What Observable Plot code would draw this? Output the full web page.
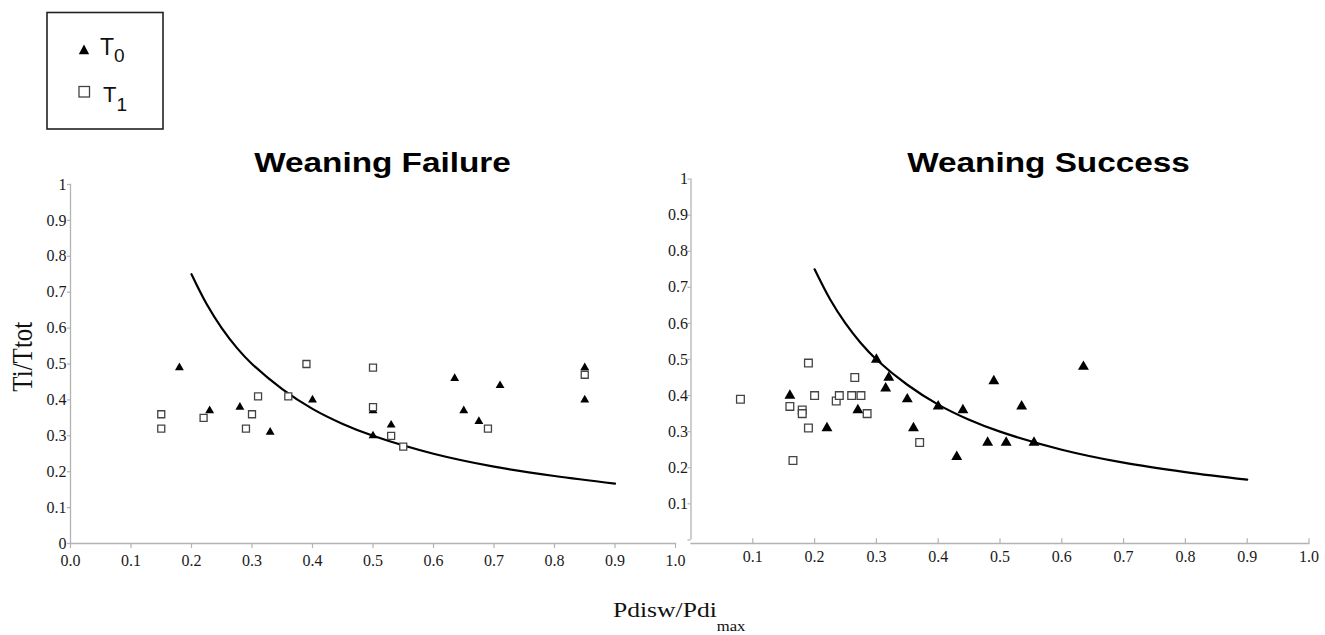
<!DOCTYPE html>
<html>
<head>
<meta charset="utf-8">
<script src="https://cdn.jsdelivr.net/npm/d3@7"></script>
<script src="https://cdn.jsdelivr.net/npm/@observablehq/plot@0.6"></script>
<style>
  html, body { margin: 0; padding: 0; background: #fff; }
  #wrap { position: relative; width: 1325px; height: 635px; background: #fff; overflow: hidden; }
  #left { position: absolute; left: 0; top: 170px; }
  #right { position: absolute; left: 620px; top: 170px; }
  #overlay { position: absolute; left: 0; top: 0; pointer-events: none; }
</style>
</head>
<body>
<div id="wrap">
  <div id="left"></div>
  <div id="right"></div>
  <svg id="overlay" width="1325" height="635">
    <!-- legend -->
    <rect x="47" y="12.5" width="116" height="116.5" fill="none" stroke="#222" stroke-width="1.6"></rect>
    <path d="M84,44.5 L89.2,54.3 L78.8,54.3 Z" fill="#000"></path>
    <rect x="79" y="86.5" width="10.5" height="10.5" fill="#fff" stroke="#444" stroke-width="1.3"></rect>
    <text x="100" y="55" font-family="'Liberation Sans', Arial, sans-serif" font-size="23" fill="#111">T<tspan font-size="19" dy="6.7">0</tspan></text>
    <text x="103" y="101.7" font-family="'Liberation Sans', Arial, sans-serif" font-size="22" fill="#111">T<tspan font-size="19" dy="9">1</tspan></text>
    <!-- titles -->
    <text transform="translate(382.5,172) scale(1.19,1)" text-anchor="middle" font-family="'Liberation Sans', Arial, sans-serif" font-weight="bold" font-size="28" fill="#000">Weaning Failure</text>
    <text transform="translate(1048.5,172) scale(1.19,1)" text-anchor="middle" font-family="'Liberation Sans', Arial, sans-serif" font-weight="bold" font-size="28" fill="#000">Weaning Success</text>
    <!-- axis labels -->
    <text transform="translate(32,356.7) scale(1.19,1) rotate(-90)" text-anchor="middle" font-family="'Liberation Serif', 'Times New Roman', serif" font-size="25" fill="#111">Ti/Ttot</text>
    <text transform="translate(613,617) scale(1.19,1)" font-family="'Liberation Serif', 'Times New Roman', serif" font-size="21.5" fill="#111">Pdisw/Pdi<tspan font-size="14" dy="14">max</tspan></text>
  </svg>
</div>
<script>
// ---- Data ----
const xTicksLeft  = [0, 0.1, 0.2, 0.3, 0.4, 0.5, 0.6, 0.7, 0.8, 0.9, 1.0];
const yTicksLeft  = [0, 0.1, 0.2, 0.3, 0.4, 0.5, 0.6, 0.7, 0.8, 0.9, 1];
const xTicksRight = [0.1, 0.2, 0.3, 0.4, 0.5, 0.6, 0.7, 0.8, 0.9, 1.0];
const yTicksRight = [0, 0.1, 0.2, 0.3, 0.4, 0.5, 0.6, 0.7, 0.8, 0.9, 1];

// Weaning Failure
const failT0x = [0.18, 0.23, 0.28, 0.33, 0.40, 0.50, 0.50, 0.53, 0.635, 0.65, 0.675, 0.71, 0.85, 0.85];
const failT0y = [0.49, 0.37, 0.38, 0.31, 0.40, 0.37, 0.30, 0.33, 0.46, 0.37, 0.34, 0.44, 0.49, 0.40];
const failT1x = [0.15, 0.15, 0.22, 0.29, 0.30, 0.31, 0.36, 0.39, 0.50, 0.50, 0.53, 0.55, 0.69, 0.85];
const failT1y = [0.36, 0.32, 0.35, 0.32, 0.36, 0.41, 0.41, 0.50, 0.49, 0.38, 0.30, 0.27, 0.32, 0.47];

// Weaning Success
const succT0x = [0.16, 0.22, 0.27, 0.30, 0.315, 0.32, 0.35, 0.36, 0.40, 0.43, 0.44, 0.48, 0.49, 0.51, 0.535, 0.555, 0.635];
const succT0y = [0.40, 0.31, 0.36, 0.50, 0.42, 0.45, 0.39, 0.31, 0.37, 0.23, 0.36, 0.27, 0.44, 0.27, 0.37, 0.27, 0.48];
const succT1x = [0.08, 0.16, 0.165, 0.18, 0.18, 0.19, 0.19, 0.20, 0.235, 0.24, 0.26, 0.265, 0.275, 0.285, 0.37];
const succT1y = [0.39, 0.37, 0.22, 0.36, 0.35, 0.49, 0.31, 0.40, 0.385, 0.40, 0.40, 0.45, 0.40, 0.35, 0.27];

// Threshold curve
const curveX = [0.20, 0.225, 0.25, 0.275, 0.30, 0.35, 0.40, 0.45, 0.50, 0.60, 0.70, 0.80, 0.90];
const curveY = [0.75, 0.667, 0.60, 0.545, 0.50, 0.43, 0.375, 0.333, 0.30, 0.25, 0.214, 0.188, 0.167];

// ---- Styles ----
const axisGray = "#b3b3b3";
const textCol = "#1a1a1a";
const serif = "Liberation Serif";

function pts(xs, ys) { return xs.map((x, i) => ({x, y: ys[i]})); }
const lbl = {fontFamily: serif, fontSize: 16, fill: textCol};
const tickStyle = {stroke: axisGray, strokeWidth: 1.2};

// ---- Left panel: Weaning Failure ----
const left = Plot.plot({
  width: 700, height: 400,
  marginLeft: 70, marginRight: 25, marginTop: 14, marginBottom: 27,
  x: {domain: [0, 1], axis: null},
  y: {domain: [0, 1], axis: null},
  style: {background: "transparent", overflow: "visible"},
  marks: [
    Plot.frame({anchor: "bottom", stroke: axisGray, strokeWidth: 1.3}),
    Plot.frame({anchor: "left", stroke: axisGray, strokeWidth: 1.3}),
    // small tick marks (below x axis, left of y axis)
    Plot.ruleX(xTicksLeft, {x: d => d, y1: 0, y2: -0.014, ...tickStyle}),
    Plot.ruleY(yTicksLeft, {y: d => d, x1: 0, x2: -0.005, ...tickStyle}),
    Plot.text(xTicksLeft, {x: d => d, frameAnchor: "bottom", text: d => d.toFixed(1), dy: 22, ...lbl}),
    Plot.text(yTicksLeft, {x: 0, y: d => d, text: d => String(d), textAnchor: "end", dx: -4, ...lbl}),
    Plot.line(pts(curveX, curveY), {x: "x", y: "y", curve: "catmull-rom", stroke: "#000", strokeWidth: 2.2}),
    Plot.dot(pts(failT0x, failT0y), {x: "x", y: "y", symbol: "triangle", r: 3.3, fill: "#000"}),
    Plot.dot(pts(failT1x, failT1y), {x: "x", y: "y", symbol: "square", r: 3.95, fill: "#fff", stroke: "#444", strokeWidth: 1.3})
  ]
});
document.getElementById("left").appendChild(left);

// ---- Right panel: Weaning Success ----
const right = Plot.plot({
  width: 705, height: 400,
  marginLeft: 70.5, marginRight: 16.5, marginTop: 8.6, marginBottom: 27,
  x: {domain: [0, 1], axis: null},
  y: {domain: [0, 1], insetBottom: 3.6, axis: null},
  style: {background: "transparent", overflow: "visible"},
  marks: [
    Plot.frame({anchor: "bottom", stroke: axisGray, strokeWidth: 1.3}),
    Plot.ruleX([0], {y1: 0, y2: 1, stroke: axisGray, strokeWidth: 1.3}),
    // small tick marks (up from x axis, left of y axis)
    Plot.ruleX(xTicksRight, {x: d => d, y1: -0.01, y2: 0.003, ...tickStyle}),
    Plot.ruleY(yTicksRight, {y: d => d, x1: 0, x2: -0.005, ...tickStyle}),
    Plot.text(xTicksRight, {x: d => d, frameAnchor: "bottom", text: d => d.toFixed(1), dy: 18, ...lbl}),
    Plot.text(yTicksRight.filter(d => d > 0), {x: 0, y: d => d, text: d => String(d), textAnchor: "end", dx: -3, ...lbl}),
    Plot.line(pts(curveX, curveY), {x: "x", y: "y", curve: "catmull-rom", stroke: "#000", strokeWidth: 2.2}),
    Plot.dot(pts(succT0x, succT0y), {x: "x", y: "y", symbol: "triangle", r: 4.05, fill: "#000"}),
    Plot.dot(pts(succT1x, succT1y), {x: "x", y: "y", symbol: "square", r: 4.35, fill: "#fff", stroke: "#444", strokeWidth: 1.3})
  ]
});
document.getElementById("right").appendChild(right);
</script>
</body>
</html>
